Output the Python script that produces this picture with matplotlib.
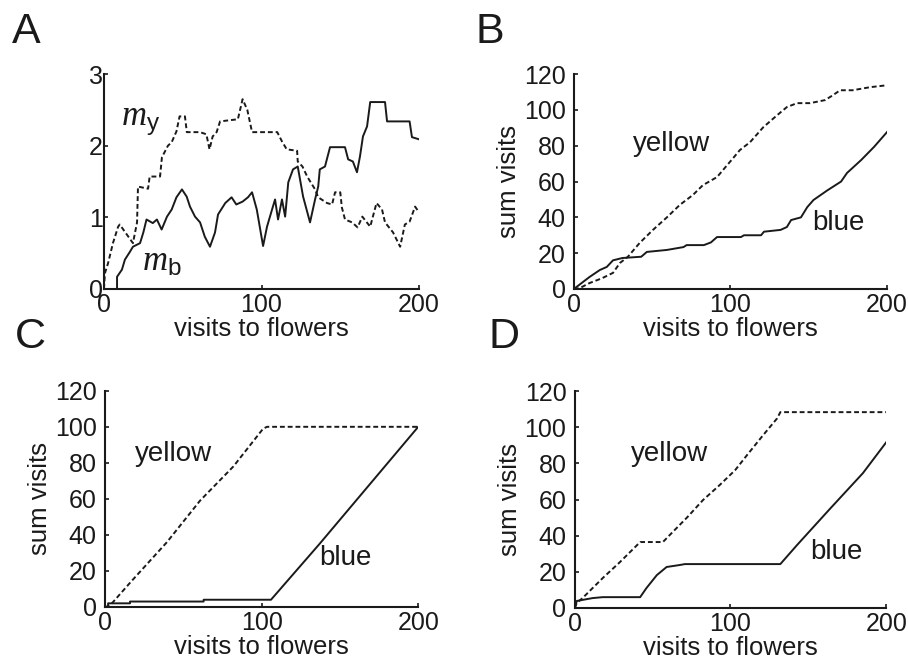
import numpy as np
import matplotlib.pyplot as plt

plt.rcParams['font.family'] = ['Liberation Sans', 'DejaVu Sans']
plt.rcParams['mathtext.fontset'] = 'custom'
plt.rcParams['mathtext.rm'] = 'Liberation Sans'
plt.rcParams['mathtext.it'] = 'Liberation Serif:italic'

# panel A: running estimates m_y (dashed) and m_b (solid)
a_y_x = [0, 0.6, 2.6, 5.7, 9, 10, 18.4, 21, 21.6, 28, 29, 35.6, 36.8, 40.6, 43, 46, 48,
         51.4, 52.6, 61, 65, 67, 69, 71.5, 73.7, 85, 88, 91, 94, 110, 113, 116, 122.6,
         123, 126, 129, 134, 136, 141.6, 144.8, 146.7, 150, 151, 153, 157.5, 161, 164,
         169, 173, 176.5, 178.4, 183.5, 188, 191, 194, 197.5, 200]
a_y_v = [0, 0.22, 0.36, 0.64, 0.87, 0.9, 0.64, 0.93, 1.43, 1.4, 1.57, 1.57, 1.84, 2.0,
         2.05, 2.2, 2.41, 2.41, 2.19, 2.19, 2.16, 1.95, 2.13, 2.19, 2.34, 2.37, 2.65,
         2.5, 2.19, 2.19, 2.06, 1.95, 1.93, 1.78, 1.71, 1.57, 1.39, 1.28, 1.2, 1.18,
         1.35, 1.35, 1.14, 0.97, 0.93, 0.86, 1.01, 0.87, 1.2, 1.11, 0.93, 0.79, 0.59,
         0.9, 0.94, 1.15, 1.07]
a_b_x = [0, 8.3, 8.3, 11.4, 13.3, 16.5, 18.4, 22.9, 25, 27, 31, 33.6, 36.6, 40, 43, 46,
         49.5, 52.5, 54.6, 57.8, 61, 64, 67.3, 70.5, 72.4, 77, 81, 84, 88, 91.4, 94,
         97, 101, 103.5, 106.7, 108.6, 110.5, 113, 115, 117, 120, 123, 126.4, 130.8,
         134, 136, 137, 140.3, 143.5, 153, 155, 158, 160.6, 162.5, 164.4, 167, 169,
         178.4, 179.7, 194, 195.5, 200]
a_b_v = [0, 0, 0.17, 0.27, 0.41, 0.52, 0.59, 0.64, 0.79, 0.97, 0.92, 0.97, 0.83, 1.01,
         1.11, 1.28, 1.39, 1.29, 1.15, 1.01, 0.93, 0.73, 0.59, 0.79, 1.04, 1.2, 1.28,
         1.18, 1.22, 1.28, 1.35, 1.11, 0.6, 0.87, 1.11, 1.25, 0.97, 1.25, 1.01, 1.49,
         1.67, 1.71, 1.29, 0.93, 1.25, 1.43, 1.67, 1.71, 1.98, 1.98, 1.81, 1.78, 1.63,
         1.85, 2.13, 2.27, 2.61, 2.61, 2.34, 2.34, 2.12, 2.09]

# panel B: cumulative visits
b_yel_x = [0, 3.8, 10, 18, 25, 29.4, 34.5, 42, 50.5, 59.4, 67.7, 76, 82.4, 91.4, 101.6,
           106, 112.5, 121, 129.7, 136, 142.5, 150.8, 160.4, 165.5, 170, 178, 189, 200]
b_yel_v = [0, 0.5, 3.3, 6, 9, 14.5, 18, 25.7, 33, 40, 47, 52.5, 58, 62.5, 73,
           77.6, 82, 90.4, 97, 101.6, 103.8, 103.8, 105.5, 108.3, 111, 111, 112.7, 113.8]
b_blu_x = [0, 10, 16.6, 21, 25, 31, 43, 46.6, 59.4, 70, 72, 83, 87.5, 91.4, 106.7, 108.6,
           119.5, 121.4, 132, 136, 138.7, 145, 149, 153, 161.7, 170.6, 174.4, 183.4,
           191.7, 200]
b_blu_v = [0, 6.7, 10.6, 12.3, 16, 17.3, 18, 20.7, 21.8, 23.4, 24.5, 24.5, 26, 29, 29,
           30, 30, 32, 33, 34.6, 38.5, 40, 45.7, 49.7, 55, 60, 64.8, 72, 79.4, 87.7]

# panel C
c_yel_x = [0, 3, 16.6, 39.6, 60.7, 82, 101, 103.5, 200]
c_yel_v = [0, 0.6, 14, 36, 59, 78, 99, 100, 100]
c_blu_x = [0, 2, 2, 16, 16, 63, 63, 106, 137, 200]
c_blu_v = [0, 0, 2, 2, 3, 3, 4, 4, 35, 100]

# panel D
d_yel_x = [0, 1.3, 5, 18, 29, 40, 42, 56.6, 61, 72, 82.3, 93, 103, 110.6, 121, 130, 132, 200]
d_yel_v = [0, 2.8, 5.5, 16.6, 25.4, 34.8, 36.5, 36.5, 40.4, 50, 59.7, 68, 76.3, 84.6,
           95.7, 105, 108.4, 108.4]
d_blu_x = [0, 1.3, 11.6, 18, 42, 46, 52.7, 59, 67.5, 70.7, 132, 142.7, 164, 185, 200]
d_blu_v = [0, 3.9, 5.5, 6, 6, 11, 18.2, 22.7, 23.8, 24.3, 24.3, 34.8, 55, 74.6, 91.7]

ink = '#1a1a1a'
dash = (2.5, 1.5)


def style_axes(ax, ymax, yticks, ypad):
    for s in ['top', 'right']:
        ax.spines[s].set_visible(False)
    for s in ['left', 'bottom']:
        ax.spines[s].set_linewidth(1.5)
        ax.spines[s].set_color(ink)
    ax.set_xlim(0, 200)
    ax.set_ylim(0, ymax)
    ax.set_xticks([0, 100, 200])
    ax.set_yticks(yticks)
    ax.tick_params(direction='in', length=3, width=1.2, labelsize=18,
                   colors=ink)
    ax.tick_params(axis='x', pad=3)
    ax.tick_params(axis='y', pad=ypad)
    ax.set_xlabel('visits to flowers', fontsize=18.5, color=ink, labelpad=0)


fig = plt.figure(figsize=(9.08, 6.59), dpi=100)

axA = fig.add_axes([0.1145, 0.5615, 0.347, 0.326])
axB = fig.add_axes([0.632, 0.5615, 0.345, 0.326])
axC = fig.add_axes([0.1156, 0.079, 0.345, 0.328])
axD = fig.add_axes([0.633, 0.0774, 0.343, 0.329])

# A
axA.plot(a_y_x, a_y_v, color=ink, lw=1.4, dashes=dash)
axA.plot(a_b_x, a_b_v, color=ink, lw=1.4)
style_axes(axA, 3, [0, 1, 2, 3], 1)
axA.text(11, 2.34, r'$m_\mathrm{y}$', fontsize=25, va='center', color=ink)
axA.text(24, 0.38, r'$m_\mathrm{b}$', fontsize=25, va='center', color=ink)

# B, C, D
panels = [(axB, b_yel_x, b_yel_v, b_blu_x, b_blu_v, (38, 81), (152, 37)),
          (axC, c_yel_x, c_yel_v, c_blu_x, c_blu_v, (19, 85), (137, 27)),
          (axD, d_yel_x, d_yel_v, d_blu_x, d_blu_v, (36, 85), (151, 31))]
for ax, yx, yv, bx, bv, ypos, bpos in panels:
    ax.plot(yx, yv, color=ink, lw=1.4, dashes=dash)
    ax.plot(bx, bv, color=ink, lw=1.4)
    style_axes(ax, 120, [0, 20, 40, 60, 80, 100, 120], 6)
    ax.set_ylabel('sum visits', fontsize=18.5, color=ink, labelpad=2)
    ax.text(ypos[0], ypos[1], 'yellow', fontsize=20, va='center', color=ink)
    ax.text(bpos[0], bpos[1], 'blue', fontsize=20, va='center', color=ink)

# panel letters
for lab, x, y in [('A', 12, 12), ('B', 476, 12), ('C', 15, 317), ('D', 489, 317)]:
    fig.text(x / 908, 1 - y / 659, lab, fontsize=31, va='top', ha='left', color=ink)

fig.savefig('out.png', dpi=100)
